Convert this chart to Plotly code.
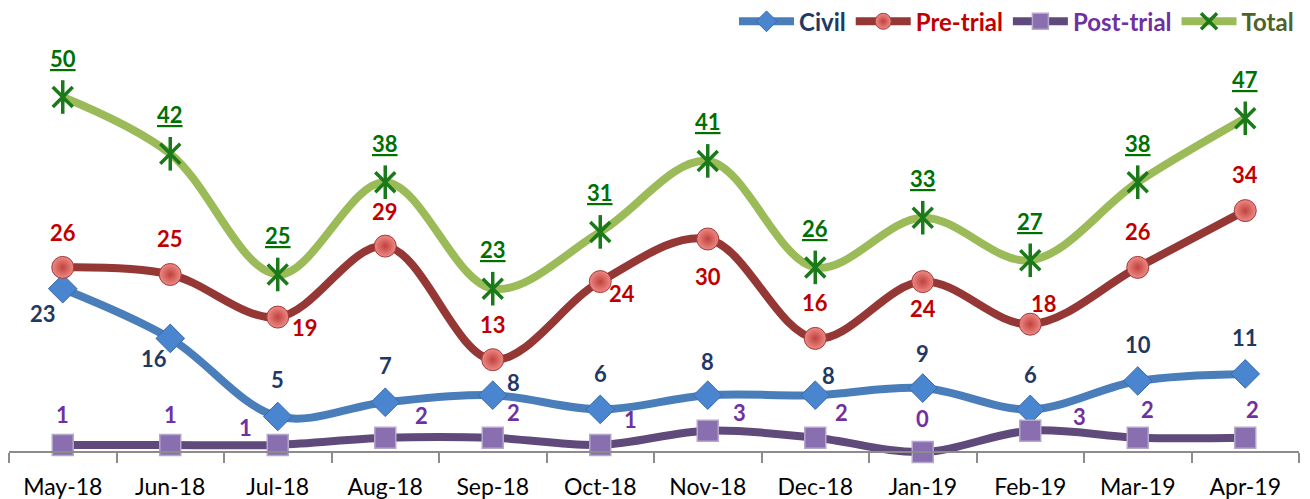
import plotly.graph_objects as go

months = ["May-18", "Jun-18", "Jul-18", "Aug-18", "Sep-18", "Oct-18",
          "Nov-18", "Dec-18", "Jan-19", "Feb-19", "Mar-19", "Apr-19"]
civil = [23, 16, 5, 7, 8, 6, 8, 8, 9, 6, 10, 11]
pre_trial = [26, 25, 19, 29, 13, 24, 30, 16, 24, 18, 26, 34]
post_trial = [1, 1, 1, 2, 2, 1, 3, 2, 0, 3, 2, 2]
total = [50, 42, 25, 38, 23, 31, 41, 26, 33, 27, 38, 47]

# label offsets in px (xshift, yshift) so labels sit like the original
civil_off = [(-20, -25), (-16, -20), (0, 37), (0, 37), (21, 13), (0, 36),
             (0, 34), (13, 20), (0, 35), (0, 35), (0, 36), (0, 36)]
pre_off = [(0, 35), (0, 36), (27, -10), (0, 35), (0, 35), (22, -12),
           (0, -37), (0, 36), (0, -27), (14, 21), (0, 36), (0, 36)]
post_off = [(0, 30), (0, 30), (-32, 17), (36, 22), (21, 25), (30, 25),
            (32, 18), (26, 25), (0, 33), (49, 14), (10, 28), (7, 28)]
total_off = [(0, 39)] * 12

FONT = "Lato"
STAR = "#1a7a1a"

fig = go.Figure()

def add_series(name, y, line_color, text_color, marker):
    fig.add_trace(go.Scatter(
        x=months, y=y, mode="lines+markers",
        name=f"<span style='color:{text_color}'><b>{name}</b></span>",
        line=dict(color=line_color, width=8, shape="spline", smoothing=1.0),
        marker=marker, cliponaxis=False,
    ))

add_series("Civil", civil, "#4a7ebb", "#1f3864",
           dict(symbol="diamond", size=22, color="#4a86cf",
                line=dict(color="#3a6aa8", width=1)))
add_series("Pre-trial", pre_trial, "#953735", "#c00000",
           dict(symbol="circle", size=22, color="#ee8a86",
                gradient=dict(type="radial", color="#c0413c"),
                line=dict(color="#a33a3a", width=1)))
add_series("Post-trial", post_trial, "#604a7b", "#7030a0",
           dict(symbol="square", size=21, color="#8a6fb0",
                line=dict(color="#b5a6cc", width=1.5)))
add_series("Total", total, "#9bbb59", "#4f6228",
           dict(symbol="x-thin-open", size=20, color=STAR,
                line=dict(color=STAR, width=3.5)))
# vertical stroke of the star marker
fig.add_trace(go.Scatter(
    x=months, y=total, mode="markers", showlegend=False, hoverinfo="skip",
    marker=dict(symbol="line-ns-open", size=24, color=STAR,
                line=dict(color=STAR, width=3.5)),
    cliponaxis=False,
))

def add_labels(y, offs, color, underline=False):
    for m, v, (dx, dy) in zip(months, y, offs):
        txt = f"<b>{v}</b>"
        if underline:
            txt = f"<u><b>{v}</b></u>"
        fig.add_annotation(x=m, y=v, text=txt, showarrow=False,
                           xshift=dx, yshift=dy,
                           font=dict(family=FONT, size=22, color=color))

add_labels(civil, civil_off, "#1f3864")
add_labels(pre_trial, pre_off, "#c00000")
add_labels(post_trial, post_off, "#7030a0")
add_labels(total, total_off, "#007000", underline=True)

y0, y1 = -1.13, 58.03
fig.update_layout(
    width=1310, height=499,
    margin=dict(l=9, r=11, t=40, b=39, autoexpand=False),
    plot_bgcolor="white", paper_bgcolor="white",
    font=dict(family=FONT),
    showlegend=True,
    legend=dict(orientation="h", x=1, xanchor="right", y=0.99, yanchor="bottom",
                font=dict(family=FONT, size=24), bgcolor="rgba(0,0,0,0)",
                traceorder="normal", itemwidth=55),
    xaxis=dict(
        type="category", range=[-0.5, 11.5],
        anchor="free", position=-y0 / (y1 - y0),
        showline=True, linecolor="#8c8c8c", linewidth=1.5,
        ticks="outside", tickson="boundaries", ticklen=10,
        tickcolor="#8c8c8c", tickwidth=1.5,
        ticklabelstandoff=15,
        tickfont=dict(family=FONT, size=23, color="#000000"),
        showgrid=False, zeroline=False,
    ),
    yaxis=dict(range=[y0, y1], visible=False, showgrid=False, zeroline=False),
)

# drop the browser's default body margin so the figure sits at the page corner
fig.write_html("out.html", config={"displayModeBar": False},
               post_script="document.body.style.margin='0';")
